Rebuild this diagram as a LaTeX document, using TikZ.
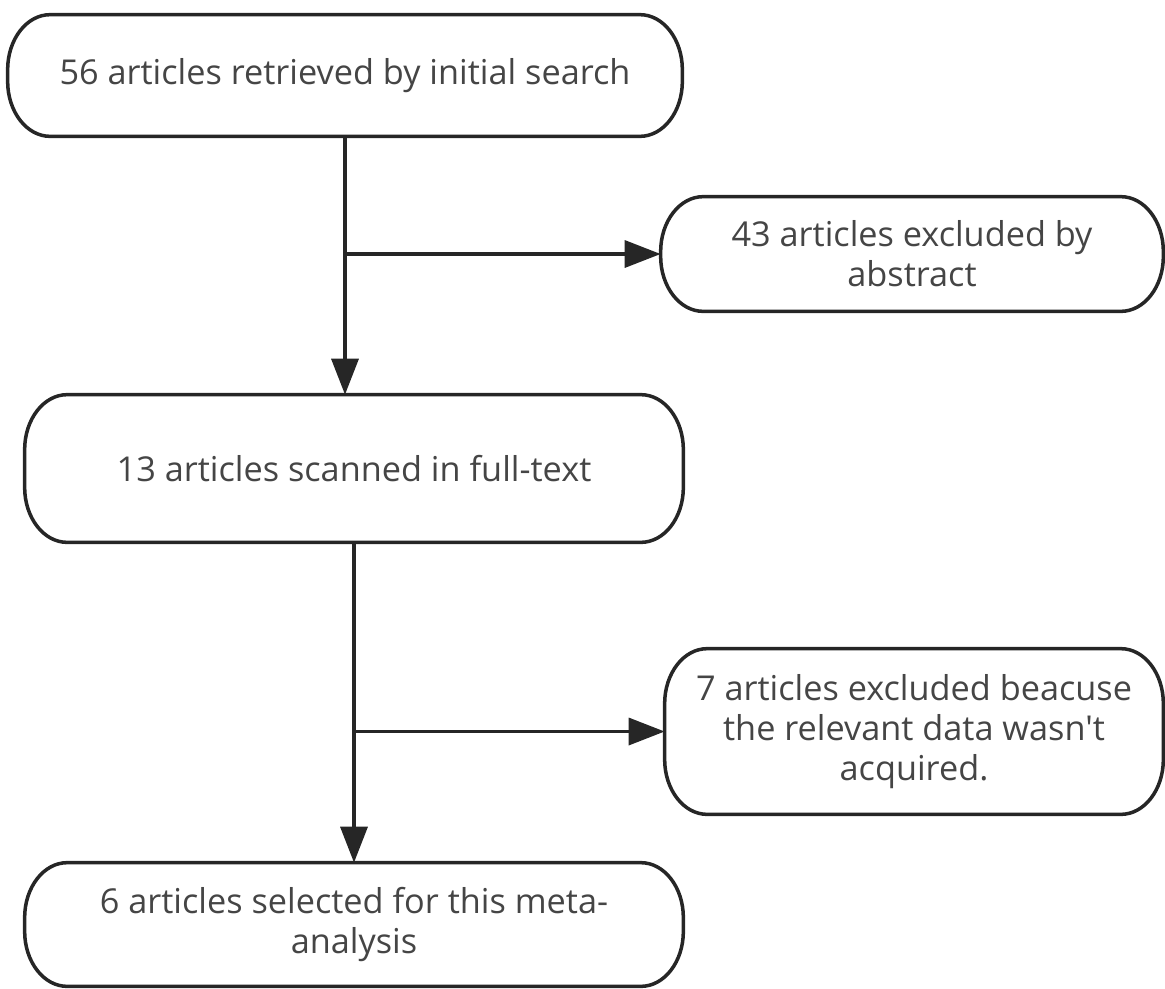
\documentclass[tikz,border=0pt]{standalone}
\usepackage{fontspec}
\setmainfont{Open Sans}[Ligatures=TeXOff]
\usetikzlibrary{arrows.meta,positioning,calc}
\definecolor{linegray}{HTML}{262626}
\definecolor{textgray}{HTML}{454545}
\newcommand{\cornerx}{0.85cm}
\newcommand{\cornery}{1.1cm}

\begin{document}
\begin{tikzpicture}[
    flowbox/.style={inner sep=0pt, align=center, text=textgray, font=\fontsize{19.5}{22.8}\selectfont},
    outline/.style={draw=linegray, line width=2pt},
    flow/.style={draw=linegray, line width=2pt, -{Triangle[length=0.72cm,width=0.54cm]}}
]
    \useasboundingbox (0,0) rectangle (23.3,-19.76);

    % Main column
    \node[flowbox, minimum width=13.48cm, minimum height=2.42cm] (search) at (6.90,-1.51) {56 articles retrieved by initial search};
    \node[flowbox, minimum width=13.16cm, minimum height=2.94cm] (fulltext) at (7.08,-9.37) {13 articles scanned in full-text};
    \node[flowbox, minimum width=13.16cm, minimum height=2.46cm] (selected) at (7.08,-18.49) {6 articles selected for this meta-\\analysis};

    % Exclusions
    \node[flowbox, minimum width=10.04cm, minimum height=2.28cm] (abstract) at (18.24,-5.08) {43 articles excluded by\\abstract};
    \node[flowbox, minimum width=9.96cm, minimum height=3.30cm] (nodata) at (18.28,-14.63) {7 articles excluded beacuse\\the relevant data wasn't\\acquired.};

    % Box outlines
    \foreach \n in {search,fulltext,selected,abstract,nodata}
        \draw[outline] ([xshift=\cornerx]\n.north west) -- ([xshift=-\cornerx]\n.north east)
            arc[start angle=90, end angle=0, x radius=\cornerx, y radius=\cornery]
            -- ([yshift=\cornery]\n.south east)
            arc[start angle=0, end angle=-90, x radius=\cornerx, y radius=\cornery]
            -- ([xshift=\cornerx]\n.south west)
            arc[start angle=270, end angle=180, x radius=\cornerx, y radius=\cornery]
            -- ([yshift=-\cornery]\n.north west)
            arc[start angle=180, end angle=90, x radius=\cornerx, y radius=\cornery]
            -- cycle;

    % Connections
    \draw[flow] (search.south) -- (search.south |- fulltext.north);
    \draw[flow] (search.south |- abstract.west) -- (abstract.west);
    \draw[flow] (fulltext.south) -- (selected.north);
    \draw[flow] (fulltext.south |- nodata.west) -- (nodata.west);
\end{tikzpicture}
\end{document}
